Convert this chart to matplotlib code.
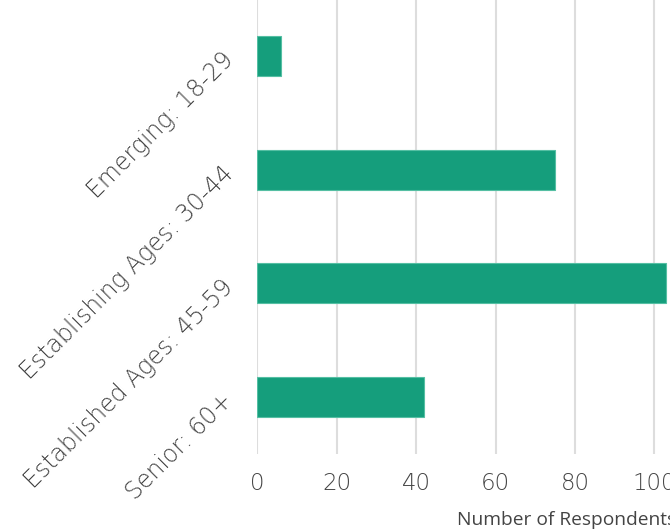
import matplotlib.pyplot as plt

# data
categories = ['Emerging: 18-29', 'Establishing Ages: 30-44',
              'Established Ages: 45-59', 'Senior: 60+']
respondents = [6, 75, 103, 42]
x_ticks = [0, 20, 40, 60, 80, 100]

plt.rcParams['font.family'] = ['DejaVu Sans']

fig = plt.figure(figsize=(6.7, 5.29), dpi=100)
# axes runs past the right edge of the figure, like the cropped original
ax = fig.add_axes([257.3 / 670, 75 / 529, 476.4 / 670, 455 / 529])

ax.barh(categories, respondents, height=0.35, color='#159e7c',
        edgecolor='#55bfa3', linewidth=0.8, zorder=3)
ax.set_ylim(3.5, -0.5)
ax.set_xlim(0, 120)
ax.set_xticks(x_ticks)

ax.grid(axis='x', color='#dddddd', linewidth=1.5, zorder=0)
for s in ax.spines.values():
    s.set_visible(False)
ax.tick_params(length=0)
ax.tick_params(axis='x', labelsize=16.5, labelcolor='#444444', pad=13)
ax.tick_params(axis='y', labelsize=17, labelcolor='#444444', pad=20)
for lab in ax.get_xticklabels():
    lab.set_fontweight('light')
for lab in ax.get_yticklabels():
    lab.set_fontweight('light')
    lab.set_rotation(45)
    lab.set_rotation_mode('anchor')
    lab.set_ha('right')
    lab.set_va('center')

fig.text(457 / 670, 1 - 525 / 529, 'Number of Respondents', ha='left',
         va='baseline', fontsize=13.8, color='#444444',
         family=['Open Sans', 'DejaVu Sans'])

plt.savefig('out.png', dpi=100)
